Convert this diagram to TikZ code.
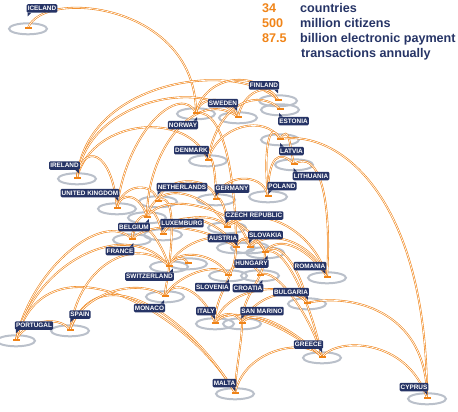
\documentclass[tikz,border=0pt]{standalone}
\usepackage{fontspec}
\setmainfont{Liberation Sans}
\usetikzlibrary{calc}
\definecolor{linkorange}{RGB}{240,132,24}
\definecolor{labelnavy}{RGB}{38,52,102}
\definecolor{ringgrey}{RGB}{186,192,202}
\newcommand{\headfont}{\fontsize{12.6}{15}\selectfont\bfseries}

\tikzset{
  ring/.style={draw=ringgrey, line width=2pt},
  link/.style={draw=linkorange, double=white, line width=0.6pt, double distance=0.7pt},
  tag/.style={fill=labelnavy, text=white, rounded corners=1.2pt,
              font=\fontsize{6.4}{7}\selectfont\bfseries,
              inner xsep=1.1pt, inner ysep=0pt, minimum height=8.5pt},
}

\begin{document}
\begin{tikzpicture}[x=1pt, y=-1pt]
  \useasboundingbox (0,0) rectangle (458,412);

  % Country points
  \foreach \n/\x/\y in {ICE/28/28, NOR/196/113, SWE/238/117, FIN/278/100,
      EST/280/109, DEN/208/160, LAT/280/139, LIT/294/164, IRL/77/178,
      UK/117/208, NED/158/201, GER/216/199, POL/268/196, BEL/147/217,
      LUX/163/234, CZE/227/227, AUT/236/247, SVK/250/247, HUN/265/252,
      FRA/132/239, SUI/169/266, LIE/188/263, ROU/327/277, SLO/228/275,
      CRO/260/275, BUL/307/303, MON/165/296, ITA/215/323, SMR/242/323,
      POR/16/340, ESP/70/330, GRE/322/357, MLT/235/393, CYP/427/398}
    \coordinate (\n) at (\x,\y);

  % Grey rings
  \foreach \n in {ICE,NOR,SWE,FIN,EST,DEN,LAT,LIT,IRL,UK,NED,GER,POL,BEL,
      LUX,CZE,AUT,SVK,HUN,FRA,SUI,LIE,ROU,SLO,CRO,BUL,MON,ITA,SMR,POR,ESP,
      GRE,MLT,CYP}
    \draw[ring] ($(\n)+(0,0.8)$) ellipse [x radius=19pt, y radius=5.5pt];

  % Payment links
  \foreach \a/\b/\ux/\uy/\vx/\vy in {
      ICE/NOR/15/-40/0/-110, IRL/FIN/10/-100/-40/-40, IRL/SWE/10/-80/-30/-40,
      IRL/DEN/15/-60/-20/-50, IRL/UK/5/-35/-5/-60, UK/NOR/10/-80/-15/-30,
      UK/NED/5/-25/-5/-20, UK/BEL/5/-20/-5/-20, BEL/SWE/0/-70/-40/-30,
      NOR/SWE/5/-20/-5/-20, NOR/FIN/10/-40/-20/-30, SWE/FIN/5/-25/-10/-20,
      NOR/AUT/30/-5/0/-60, DEN/LAT/10/-35/-15/-25, DEN/EST/10/-60/-20/-20,
      DEN/GER/5/-10/0/-20, NED/GER/5/-25/-5/-25, GER/POL/5/-25/-5/-25,
      POL/LIT/0/-40/-15/-15, POL/LAT/-5/-50/-10/-20, LAT/LIT/10/-15/-5/-20,
      LIT/ROU/25/-15/5/-80, LAT/CYP/60/-10/0/-200, BUL/CYP/40/-10/0/-90,
      GRE/CYP/15/-20/-20/-60, MLT/GRE/10/-45/-15/-20, MLT/SMR/0/-20/0/20,
      POR/MLT/30/-110/-45/-80, ESP/MLT/30/-80/-40/-70, POR/ESP/10/-20/-10/-15,
      POR/FRA/15/-70/-30/-30, POR/SUI/20/-80/-40/-50, ESP/SUI/10/-70/-30/-30,
      ESP/MON/10/-35/-30/-20, FRA/SUI/5/-30/-10/-30, FRA/AUT/20/-20/-30/-20,
      NED/SUI/15/-10/5/-40, FRA/BEL/0/-15/-5/-5, BEL/LUX/5/-15/-5/-15,
      LUX/CZE/10/-20/-10/-15, LUX/AUT/15/-30/-15/-25, BEL/CZE/10/-40/-20/-35,
      BEL/HUN/20/-30/-20/-40, GER/CZE/5/-5/0/-15, CZE/SVK/5/-15/-5/-15,
      AUT/SVK/3/-10/-3/-10, AUT/HUN/5/-15/-5/-15, SVK/HUN/3/-10/-3/-10,
      CZE/ROU/30/-25/-15/-50, SVK/ROU/20/-20/-15/-35, HUN/ROU/15/-20/-15/-25,
      HUN/BUL/15/-15/-5/-30, HUN/GRE/20/-10/-10/-50, CRO/GRE/15/-10/-10/-40,
      SMR/BUL/10/-25/-15/-20, ITA/BUL/10/-35/-20/-25, ITA/GRE/20/-25/-20/-20,
      SMR/GRE/15/-20/-15/-15, ITA/SMR/5/-12/-5/-12, MON/ITA/10/-20/-10/-30,
      MON/SLO/10/-20/-10/-15, SUI/SLO/10/-20/-10/-20, SUI/AUT/10/-25/-10/-20,
      SLO/CRO/5/-15/-5/-15, MON/SUI/0/-10/0/10, ITA/AUT/0/-30/0/30,
      SMR/HUN/0/-30/0/30, SUI/LIE/5/-8/-5/-8}
    \draw[link] (\a) .. controls +(\ux,\uy) and +(\vx,\vy) .. (\b);

  % Orange tacks
  \foreach \n in {ICE,NOR,SWE,FIN,EST,DEN,LAT,LIT,IRL,UK,NED,GER,POL,BEL,
      LUX,CZE,AUT,SVK,HUN,FRA,SUI,LIE,ROU,SLO,CRO,BUL,MON,ITA,SMR,POR,ESP,
      GRE,MLT,CYP}
    \fill[linkorange] ($(\n)+(-3.5,-1.3)$) rectangle ($(\n)+(3.5,1.3)$);

  % Country tags with tails
  \foreach \n/\x/\y/\an/\sx/\sy/\t in {
      ICE/42/8.5/south west/1/1/ICELAND, NOR/183/125/north east/-1/-1/NORWAY,
      SWE/223/103/south east/-1/1/SWEDEN, FIN/264/85.5/south east/-1/1/FINLAND,
      EST/293.5/121/north west/1/-1/ESTONIA, DEN/191.5/150/south east/-1/1/DENMARK,
      LAT/291.5/151/north west/1/-1/LATVIA, LIT/311/176/north west/1/-1/LITHUANIA,
      POL/282/186/south west/1/1/POLAND, GER/232/188.5/south west/1/1/GERMANY,
      NED/182/187/south west/1/1/NETHERLANDS, IRL/64.5/165.5/south east/-1/1/IRELAND,
      UK/90/193/south east/-1/1/UNITED KINGDOM, BEL/134/227/north east/-1/-1/BELGIUM,
      LUX/182/223/south west/1/1/LUXEMBURG, CZE/254/215.5/south west/1/1/CZECH REPUBLIC,
      AUT/223/238/south east/-1/1/AUSTRIA, SVK/265.5/235/south west/1/1/SLOVAKIA,
      HUN/251.5/263.5/north east/-1/-1/HUNGARY, ROU/310/266/south east/-1/1/ROMANIA,
      FRA/120/251/north east/-1/-1/FRANCE, SUI/149.5/276.5/north east/-1/-1/SWITZERLAND,
      SLO/212.5/287/north east/-1/-1/SLOVENIA, CRO/248/288/north east/-1/-1/CROATIA,
      BUL/291/292/south east/-1/1/BULGARIA, MON/149.5/308/north east/-1/-1/MONACO,
      ITA/206/311/south east/-1/1/ITALY, SMR/262/311/south west/1/1/SAN MARINO,
      POR/34/325.5/south west/1/1/PORTUGAL, ESP/80/314.5/south west/1/1/SPAIN,
      GRE/308.5/344.5/south east/-1/1/GREECE, MLT/224.5/383/south east/-1/1/MALTA,
      CYP/414/387/south east/-1/1/CYPRUS}
  {
    \node[tag] (\n-lab) at (\x,\y) {\t};
    \fill[labelnavy] ($(\n-lab.\an)+(\sx*1.2,0)$) -- ++(\sx*3.5,0)
      -- ($(\n-lab.\an)+(\sx*1.2,\sy*3.5)$) -- cycle;
  }

  % Key figures
  \node[anchor=base west, font=\headfont, text=linkorange, inner sep=0] (num1) at (262,13) {34};
  \node[anchor=base west, font=\headfont, text=linkorange, inner sep=0] (num2) at (262,28) {500};
  \node[anchor=base west, font=\headfont, text=linkorange, inner sep=0] (num3) at (262,43) {87.5};
  \node[anchor=base west, font=\headfont, text=labelnavy, inner sep=0] (txt1) at (300,13) {countries};
  \node[anchor=base west, font=\headfont, text=labelnavy, inner sep=0] (txt2) at (300,28) {million citizens};
  \node[anchor=base west, font=\headfont, text=labelnavy, inner sep=0] (txt3) at (300,43) {billion electronic payment};
  \node[anchor=base west, font=\headfont, text=labelnavy, inner sep=0] (txt4) at (301,58) {transactions annually};
\end{tikzpicture}
\end{document}
